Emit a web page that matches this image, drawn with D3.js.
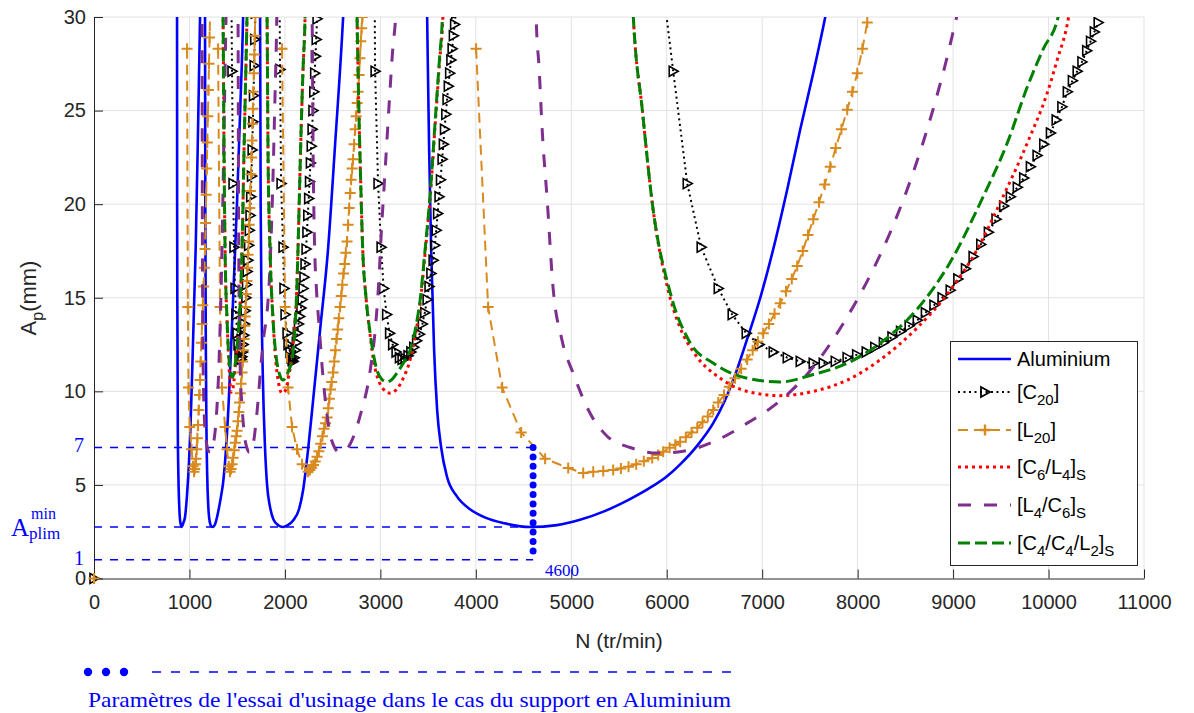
<!DOCTYPE html>
<html><head><meta charset="utf-8">
<script src="https://cdn.jsdelivr.net/npm/d3@7"></script>
<style>body{margin:0;background:#fff}svg{display:block}</style>
</head><body><svg id="c" width="1194" height="713"></svg>
<script>
// ---------------- DATA (N in tr/min, Ap in mm) ----------------
const xTicks = [0,1000,2000,3000,4000,5000,6000,7000,8000,9000,10000,11000];
const yTicks = [0,5,10,15,20,25,30];
const blueTicks = [1,7];
const aplimMin = 2.75;
const testSpeed = 4600;
const testDepths = [1,7];
const seriesNames = ["Aluminium","[C20]","[L20]","[C6/L4]S","[L4/C6]S","[C4/C4/L2]S"];

const aluminiumLobes = [
 [[868,31],[870,30],[871,20],[873,14.9],[878,8],[884,5.5],[892,4.0],[902,3.1],[918,2.75],[935,2.95],[954,3.3],[975,4.5],[995,6.2],[1010,8],[1030,11.3],[1050,14.9],[1065,17.6],[1090,24],[1111,30],[1115,31]],
 [[1160,31],[1163,30],[1166,20],[1172,12],[1178,8],[1186,5.5],[1196,4.0],[1210,3.1],[1228,2.8],[1247,2.75],[1268,2.9],[1290,3.3],[1310,3.8],[1331,4.4],[1352,5.1],[1380,6.7],[1410,9.3],[1440,12.8],[1470,16.5],[1500,20.3],[1530,24.8],[1562,30],[1566,31]],
 [[1737,31],[1740,30],[1746,20],[1755,14.9],[1770,10.5],[1790,7.2],[1813,5.0],[1845,3.8],[1880,3.15],[1930,2.85],[1981,2.75],[2030,2.85],[2086,3.1],[2148,3.7],[2190,4.7],[2243,6.9],[2295,9.5],[2369,13.3],[2452,17.6],[2526,23.2],[2610,30],[2620,31]],
 [[3487,31],[3490,30],[3511,22.9],[3532,17.6],[3563,12.2],[3595,9.0],[3637,7.0],[3700,5.4],[3800,4.4],[3940,3.7],[4100,3.25],[4300,2.95],[4569,2.75],[4850,2.85],[5100,3.15],[5350,3.6],[5600,4.2],[5827,4.85],[6000,5.45],[6141,6.1],[6320,7.1],[6487,8.3],[6600,9.4],[6739,11.2],[6843,12.8],[6980,15.0],[7116,17.6],[7263,20.8],[7399,24.0],[7535,27.0],[7661,30],[7700,31]]
];

const c20Lobes = [
 [[1440,31],[1446,27.1],[1457,21.1],[1467,17.7],[1478,15.5],[1488,14.1],[1499,13.1],[1509,12.5],[1520,12.1],[1530,11.8],[1541,11.7],[1549,11.85],[1556,12.1],[1563,12.5],[1570,13.0],[1577,13.6],[1584,14.3],[1591,15.0],[1598,15.7],[1605,16.4],[1612,17.0],[1620,17.8],[1627,18.6],[1635,19.4],[1642,20.4],[1650,21.5],[1657,22.9],[1665,24.4],[1671,25.8],[1678,27.4],[1684,28.8],[1690,30.2]],
 [[1944,31],[1949,27.2],[1960,21.1],[1981,17.7],[1991,15.5],[2002,14.1],[2023,13.1],[2033,12.5],[2054,12.1],[2065,11.8],[2076,11.65],[2086,11.6],[2098,11.8],[2110,12.2],[2120,12.6],[2130,13.1],[2142,13.6],[2155,14.0],[2168,14.45],[2180,14.9],[2190,15.5],[2200,16.1],[2211,16.8],[2222,17.6],[2231,18.5],[2240,19.4],[2249,20.3],[2258,21.2],[2267,22.2],[2276,23.1],[2285,24.0],[2294,25.0],[2303,26.0],[2312,27.0],[2320,27.9],[2328,28.8],[2337,29.9],[2342,30.5]],
 [[2940,31],[2945,27.1],[2976,21.1],[3008,17.7],[3034,15.5],[3066,14.1],[3097,13.1],[3129,12.5],[3165,12.1],[3200,11.8],[3228,11.7],[3260,11.75],[3290,11.9],[3320,12.1],[3350,12.35],[3380,12.7],[3410,13.05],[3440,13.6],[3465,14.2],[3490,14.9],[3510,15.6],[3530,16.3],[3553,17.0],[3570,17.8],[3585,18.6],[3600,19.5],[3615,20.4],[3630,21.3],[3647,22.4],[3660,23.2],[3672,24.0],[3686,24.8],[3699,25.6],[3712,26.3],[3726,27.0],[3739,27.7],[3752,28.3],[3765,29.0],[3778,29.6],[3790,30.2]],
 [[5975,31],[6068,27.1],[6215,21.1],[6361,17.7],[6540,15.5],[6686,14.1],[6833,13.1],[6969,12.5],[7116,12.1],[7263,11.8],[7399,11.6],[7535,11.5],[7640,11.5],[7766,11.6],[7890,11.8],[7990,11.95],[8090,12.1],[8180,12.35],[8270,12.6],[8360,12.9],[8450,13.2],[8540,13.5],[8625,13.8],[8710,14.2],[8800,14.6],[8885,15.0],[8970,15.4],[9050,16.0],[9130,16.55],[9210,17.2],[9290,17.85],[9370,18.5],[9450,19.2],[9530,19.9],[9600,20.4],[9673,20.9],[9740,21.4],[9810,22.0],[9880,22.6],[9950,23.2],[10020,23.8],[10080,24.5],[10140,25.2],[10197,26.0],[10250,26.6],[10300,27.1],[10350,27.6],[10400,28.2],[10440,28.7],[10480,29.2],[10520,29.7]]
];

const l20Lobes = [
 [[975,28.3],[983,14.5],[990,10.2],[1003,8.1],[1022,6.9],[1038,6.0],[1048,5.7],[1055,5.85],[1062,6.1],[1069,6.4],[1076,6.9],[1083,7.5],[1090,8.2],[1097,9.0],[1104,9.8],[1111,10.6],[1118,11.6],[1125,12.6],[1132,13.6],[1140,14.6],[1148,15.6],[1156,16.6],[1163,17.6],[1169,19.0],[1175,20.5],[1181,21.9],[1187,23.3],[1193,24.7],[1199,26.1],[1205,27.5],[1211,28.9],[1217,30.3]],
 [[1300,28.3],[1320,14.5],[1341,10.2],[1373,8.1],[1394,6.9],[1412,6.0],[1425,5.7],[1436,5.85],[1447,6.1],[1458,6.45],[1469,6.85],[1480,7.25],[1490,7.6],[1499,7.9],[1508,8.4],[1517,8.9],[1525,9.4],[1533,9.9],[1541,10.4],[1551,11.0],[1558,11.6],[1565,12.2],[1572,12.8],[1579,13.5],[1585,14.0],[1590,14.5],[1596,15.2],[1602,15.9],[1608,16.6],[1614,17.3],[1620,18.0],[1626,18.9],[1632,19.8],[1638,20.7],[1644,21.6],[1650,22.5],[1655,23.4],[1660,24.3],[1665,25.1],[1670,26.0],[1675,27.0],[1680,28.0],[1685,29.0],[1690,30.0]],
 [[1970,28.3],[2002,14.5],[2033,10.2],[2075,8.1],[2127,6.9],[2180,6.1],[2243,5.7],[2262,5.8],[2281,5.92],[2300,6.07],[2318,6.25],[2337,6.5],[2356,6.8],[2375,7.2],[2393,7.6],[2410,8.0],[2426,8.3],[2442,8.6],[2454,9.1],[2466,9.6],[2478,10.1],[2490,10.5],[2505,11.0],[2517,11.6],[2529,12.2],[2541,12.8],[2553,13.3],[2565,13.9],[2578,14.5],[2590,15.1],[2602,15.7],[2614,16.3],[2626,16.8],[2638,17.4],[2651,18.0],[2662,18.9],[2673,19.8],[2684,20.6],[2694,21.3],[2704,21.9],[2714,22.4],[2725,23.2],[2736,24.0],[2746,24.7],[2757,25.4],[2767,26.0],[2777,26.9],[2786,27.8],[2795,28.7],[2804,29.4],[2812,30.0]],
 [[4003,28.3],[4129,14.5],[4276,10.2],[4475,7.8],[4726,6.4],[4968,5.9],[5125,5.64],[5230,5.70],[5335,5.75],[5439,5.8],[5520,5.88],[5600,5.97],[5680,6.1],[5760,6.26],[5848,6.44],[5910,6.6],[5963,6.77],[6030,6.98],[6090,7.15],[6141,7.3],[6200,7.55],[6260,7.8],[6320,8.05],[6375,8.35],[6430,8.65],[6487,9.0],[6540,9.4],[6600,9.8],[6655,10.24],[6715,10.7],[6780,11.2],[6843,11.7],[6900,12.2],[6955,12.65],[7011,13.1],[7070,13.6],[7130,14.15],[7189,14.7],[7250,15.35],[7310,16.0],[7367,16.7],[7425,17.5],[7480,18.35],[7535,19.2],[7595,20.1],[7655,21.05],[7713,22.0],[7770,23.0],[7830,24.0],[7891,25.05],[7945,26.0],[7996,27.0],[8050,28.3],[8101,29.7]]
];

const c6l4Lobes = [
 [[1349,31],[1352,30],[1362,22.9],[1373,17.6],[1394,13.8],[1410,11.8],[1423,10.6],[1436,9.95],[1452,10.05],[1467,10.6],[1485,11.6],[1509,12.9],[1530,14.6],[1551,17.6],[1572,22.9],[1603,30],[1607,31]],
 [[1810,31],[1813,30],[1823,22.9],[1844,17.6],[1876,13.8],[1905,11.6],[1935,10.4],[1970,9.9],[2005,10.05],[2040,10.8],[2075,12.0],[2100,13.3],[2120,14.9],[2135,17.2],[2152,20.5],[2170,24.0],[2190,27.2],[2211,30],[2215,31]],
 [[2753,31],[2756,30],[2775,25],[2795,21],[2815,17.6],[2850,15.0],[2893,13.0],[2930,11.6],[2966,10.8],[3020,10.2],[3102,9.9],[3170,10.1],[3240,10.7],[3312,11.7],[3370,13.1],[3417,14.7],[3469,17.4],[3521,20.3],[3575,24.3],[3620,27.6],[3655,30],[3662,31]],
 [[5640,31],[5650,30],[5745,25],[5850,20],[6015,15.4],[6140,13.4],[6280,12.1],[6560,10.7],[6840,10.0],[7190,9.77],[7535,10.0],[7890,10.6],[8240,11.7],[8625,13.4],[8970,15.4],[9255,17.6],[9495,20.1],[9780,23.3],[9990,26],[10090,27.7],[10210,30],[10240,31]]
];

const l4c6Lobes = [
 [[1130,31],[1132,30],[1135,20],[1140,13],[1148,10],[1160,8.2],[1180,7.2],[1200,6.8],[1220,6.75],[1240,6.9],[1258,7.4],[1275,8.2],[1290,9.3],[1305,10.9],[1318,12.9],[1331,15.3],[1343,18.2],[1356,22],[1370,26.2],[1383,30],[1386,31]],
 [[1506,31],[1509,30],[1514,20.2],[1522,14],[1533,11],[1551,9.2],[1575,7.7],[1600,7.0],[1625,6.75],[1650,6.85],[1672,7.3],[1694,8.2],[1719,9.5],[1745,11.2],[1780,13.0],[1813,14.2],[1844,16.7],[1870,20.5],[1895,25.5],[1915,30],[1918,31]],
 [[2282,31],[2285,30],[2295,23],[2310,18],[2330,15.5],[2360,13.4],[2395,11.0],[2430,9.2],[2470,7.8],[2520,7.0],[2570,6.75],[2610,6.8],[2662,7.0],[2720,7.6],[2788,8.7],[2893,11.1],[2950,13.5],[2985,16.0],[3010,18.5],[3040,21],[3070,23.5],[3100,26],[3130,28.3],[3160,30],[3170,31]],
 [[4628,31],[4632,30],[4664,27.2],[4695,24],[4748,20.2],[4810,15.5],[4900,12.8],[5025,10.9],[5200,8.8],[5376,7.6],[5617,7.0],[5900,6.7],[6173,6.8],[6487,7.3],[6843,8.3],[7189,9.5],[7535,11.3],[7870,13.8],[8132,16.2],[8342,18.5],[8520,20.8],[8680,23.2],[8820,25.6],[8930,27.7],[9023,29.7],[9060,30.5]]
];

const c4c4l2Lobes = [
 [[1349,31],[1352,30],[1362,22.9],[1373,17.6],[1394,13.8],[1415,11.7],[1430,11.0],[1446,10.75],[1462,10.9],[1478,11.4],[1495,12.2],[1512,13.2],[1530,14.6],[1551,17.6],[1572,22.9],[1603,30],[1607,31]],
 [[1810,31],[1813,30],[1823,22.9],[1844,17.6],[1876,13.8],[1907,11.9],[1945,10.9],[1981,10.6],[2023,10.9],[2055,11.3],[2075,11.7],[2100,13.0],[2120,14.8],[2135,17.2],[2152,20.5],[2170,24.0],[2190,27.2],[2211,30],[2215,31]],
 [[2753,31],[2756,30],[2775,25],[2795,21],[2815,17.6],[2850,15.0],[2893,13.1],[2930,11.9],[2966,11.1],[3015,10.65],[3071,10.5],[3125,10.65],[3176,11.0],[3240,11.5],[3312,12.2],[3370,13.4],[3417,14.9],[3469,17.6],[3521,20.5],[3575,24.5],[3620,27.8],[3650,30],[3657,31]],
 [[5640,31],[5650,30],[5745,25],[5850,20],[6035,15.3],[6245,12.6],[6490,11.5],[6770,10.8],[7190,10.5],[7535,10.9],[7890,11.5],[8270,12.7],[8625,14.4],[8970,16.9],[9315,20.4],[9570,23.3],[9780,26.3],[9945,28.3],[10100,30],[10130,31]]
];

const originPoint = [[0,0]];

// ---------------- DRAWING ----------------
const x = d3.scaleLinear().domain([0,11000]).range([94,1144]);
const y = d3.scaleLinear().domain([0,30]).range([578.5,17]);
const svg = d3.select('#c');
const SANS = "'Liberation Sans', Arial, Helvetica, sans-serif";
const SERIF = "'Liberation Serif', 'Times New Roman', serif";
const AX = '#262626';
const BLUE = '#0000ff', ORANGE = '#d98a1e', PURPLE = '#7e2f8e', GREEN = '#008000', RED = '#ff0000';

svg.append('defs').append('clipPath').attr('id','plotclip')
  .append('rect').attr('x',x(0)).attr('y',y(30)).attr('width',x(11000)-x(0)).attr('height',y(0)-y(30));

// grid
const grid = svg.append('g').attr('stroke','#e2e2e2').attr('stroke-width',1);
grid.selectAll('.gx').data(xTicks.slice(1)).join('line')
  .attr('x1',d=>x(d)).attr('x2',d=>x(d)).attr('y1',y(0)).attr('y2',y(30));
grid.selectAll('.gy').data(yTicks.slice(1)).join('line')
  .attr('x1',x(0)).attr('x2',x(11000)).attr('y1',d=>y(d)).attr('y2',d=>y(d));

// axes
const gx = svg.append('g').attr('transform',`translate(0,${y(0)})`)
  .call(d3.axisBottom(x).tickValues(xTicks).tickFormat(d3.format('d')).tickSizeInner(-9).tickSizeOuter(0).tickPadding(16));
const gy = svg.append('g').attr('transform',`translate(${x(0)},0)`)
  .call(d3.axisLeft(y).tickValues(yTicks).tickSizeInner(-9).tickSizeOuter(0).tickPadding(8));
[gx,gy].forEach(g=>{
  g.selectAll('path,line').attr('stroke',AX);
  g.selectAll('text').attr('fill',AX).style('font-family',SANS).style('font-size','20px');
});

// blue reference lines
const ref = svg.append('g');
ref.selectAll('line.h').data([testDepths[1], aplimMin, testDepths[0]]).join('line')
  .attr('x1',x(0)).attr('x2',x(testSpeed)).attr('y1',d=>y(d)).attr('y2',d=>y(d))
  .attr('stroke',BLUE).attr('stroke-width',1.4).attr('stroke-dasharray','8,8');

// data layer
const plot = svg.append('g').attr('clip-path','url(#plotclip)');
const lineSmooth = d3.line().x(d=>x(d[0])).y(d=>y(d[1])).curve(d3.curveMonotoneX);
const lineLin = d3.line().x(d=>x(d[0])).y(d=>y(d[1]));

function drawSeries(lobes, gen, color, width, dash){
  plot.append('g').selectAll('path').data(lobes).join('path')
    .attr('d',gen).attr('fill','none').attr('stroke',color).attr('stroke-width',width)
    .attr('stroke-dasharray',dash||null).attr('stroke-linejoin','round');
}
const triPath = 'M-4,-5L5,0L-4,5Z';
const plusPath = 'M-5.5,0H5.5M0,-5.5V5.5';

drawSeries(aluminiumLobes, lineSmooth, BLUE, 2.6, null);
drawSeries(c20Lobes, lineLin, '#000', 2, '2,3.5');
plot.append('g').selectAll('path').data(c20Lobes.flat()).join('path')
  .attr('transform',d=>`translate(${x(d[0])},${y(d[1])})`).attr('d',triPath)
  .attr('fill','none').attr('stroke','#000').attr('stroke-width',1.6);
drawSeries(l20Lobes, lineLin, ORANGE, 2, '10,6');
plot.append('g').selectAll('path').data(l20Lobes.flat()).join('path')
  .attr('transform',d=>`translate(${x(d[0])},${y(d[1])})`).attr('d',plusPath)
  .attr('fill','none').attr('stroke',ORANGE).attr('stroke-width',2);
drawSeries(c6l4Lobes, lineSmooth, RED, 3, '3,4');
drawSeries(l4c6Lobes, lineSmooth, PURPLE, 3, '13,13');
drawSeries(c4c4l2Lobes, lineSmooth, GREEN, 3, '12,5');

// origin markers
svg.append('g').selectAll('path').data(originPoint).join('path')
  .attr('transform',d=>`translate(${x(d[0])},${y(d[1])})`).attr('d',triPath)
  .attr('fill','none').attr('stroke','#000').attr('stroke-width',1.6);
svg.append('g').selectAll('path').data(originPoint).join('path')
  .attr('transform',d=>`translate(${x(d[0])},${y(d[1])})`).attr('d',plusPath)
  .attr('fill','none').attr('stroke',ORANGE).attr('stroke-width',2.2);

// machining test vertical (big blue dots)
svg.append('line').attr('x1',x(testSpeed)).attr('x2',x(testSpeed))
  .attr('y1',y(testDepths[1])).attr('y2',y(testDepths[0])+0.5)
  .attr('stroke',BLUE).attr('stroke-width',7).attr('stroke-linecap','round')
  .attr('stroke-dasharray','0,9.4');
svg.append('text').attr('x',x(testSpeed)+12).attr('y',y(0)-3)
  .attr('fill',BLUE).style('font-family',SERIF).style('font-size','17px').text(String(testSpeed));

// blue y labels
svg.append('g').selectAll('text').data(blueTicks).join('text')
  .attr('x',x(0)-10).attr('y',d=>y(d)+5).attr('text-anchor','end')
  .attr('fill',BLUE).style('font-family',SERIF).style('font-size','20px').text(d=>d);
const ap = svg.append('g').attr('fill',BLUE).style('font-family',SERIF);
ap.append('text').attr('x',11).attr('y',y(aplimMin)+9).style('font-size','25px').text('A');
ap.append('text').attr('x',31).attr('y',y(aplimMin)-8).style('font-size','16px').text('min');
ap.append('text').attr('x',29).attr('y',y(aplimMin)+12).style('font-size','17px').text('plim');

// axis labels
const yl = svg.append('text').attr('transform','translate(36,298) rotate(-90)')
  .attr('text-anchor','middle').attr('fill',AX).style('font-family',SANS).style('font-size','22px');
yl.append('tspan').text('A');
yl.append('tspan').attr('dy',7).style('font-size','16px').text('p');
yl.append('tspan').attr('dy',-7).text('(mm)');
svg.append('text').attr('x',(x(0)+x(11000))/2).attr('y',648).attr('text-anchor','middle')
  .attr('fill',AX).style('font-family',SANS).style('font-size','21px').text('N (tr/min)');

// legend
const lg = svg.append('g');
lg.append('rect').attr('x',950.5).attr('y',341.5).attr('width',187).attr('height',224)
  .attr('fill','#fff').attr('stroke',AX).attr('stroke-width',1);
const legendRows = [
  {segs:[['Aluminium']], color:BLUE, w:2.6, dash:null, mk:null},
  {segs:[['[C'],['20',1],[']']], color:'#000', w:2, dash:'2,3.5', mk:'tri'},
  {segs:[['[L'],['20',1],[']']], color:ORANGE, w:2, dash:'10,6', mk:'plus'},
  {segs:[['[C'],['6',1],['/L'],['4',1],[']'],['S',1]], color:RED, w:3, dash:'3,4', mk:null},
  {segs:[['[L'],['4',1],['/C'],['6',1],[']'],['S',1]], color:PURPLE, w:3, dash:'13,13', mk:null},
  {segs:[['[C'],['4',1],['/C'],['4',1],['/L'],['2',1],[']'],['S',1]], color:GREEN, w:3, dash:'12,5', mk:null}
];
const rowY = [359,392,430,467,505,543];
legendRows.forEach((r,i)=>{
  const cy = rowY[i];
  lg.append('line').attr('x1',958).attr('x2',1011).attr('y1',cy).attr('y2',cy)
    .attr('stroke',r.color).attr('stroke-width',r.w).attr('stroke-dasharray',r.dash);
  if(r.mk==='tri') lg.append('path').attr('transform',`translate(985,${cy})`).attr('d',triPath)
    .attr('fill','none').attr('stroke','#000').attr('stroke-width',1.8);
  if(r.mk==='plus') lg.append('path').attr('transform',`translate(985,${cy})`).attr('d',plusPath)
    .attr('fill','none').attr('stroke',ORANGE).attr('stroke-width',2.4);
  const t = lg.append('text').attr('x',1017).attr('y',cy+7).attr('fill','#000')
    .style('font-family',SANS).style('font-size','20px');
  let low=false;
  r.segs.forEach(s=>{
    const sp = t.append('tspan').text(s[0]);
    if(s[1] && !low){ sp.attr('dy',6).style('font-size','15px'); low=true; }
    else if(s[1]){ sp.style('font-size','15px'); }
    else if(low){ sp.attr('dy',-6); low=false; }
  });
});

// bottom annotation
const note = svg.append('g');
note.selectAll('circle').data([88,106,124]).join('circle')
  .attr('cx',d=>d).attr('cy',672).attr('r',4.2).attr('fill',BLUE);
note.append('line').attr('x1',152).attr('x2',733).attr('y1',672).attr('y2',672)
  .attr('stroke',BLUE).attr('stroke-width',1.4).attr('stroke-dasharray','9,10');
note.append('text').attr('x',88).attr('y',707).attr('fill',BLUE)
  .attr('textLength',643).attr('lengthAdjust','spacingAndGlyphs')
  .style('font-family',SERIF).style('font-size','21px')
  .text("Paramètres de l'essai d'usinage dans le cas du support en Aluminium");
</script></body></html>
